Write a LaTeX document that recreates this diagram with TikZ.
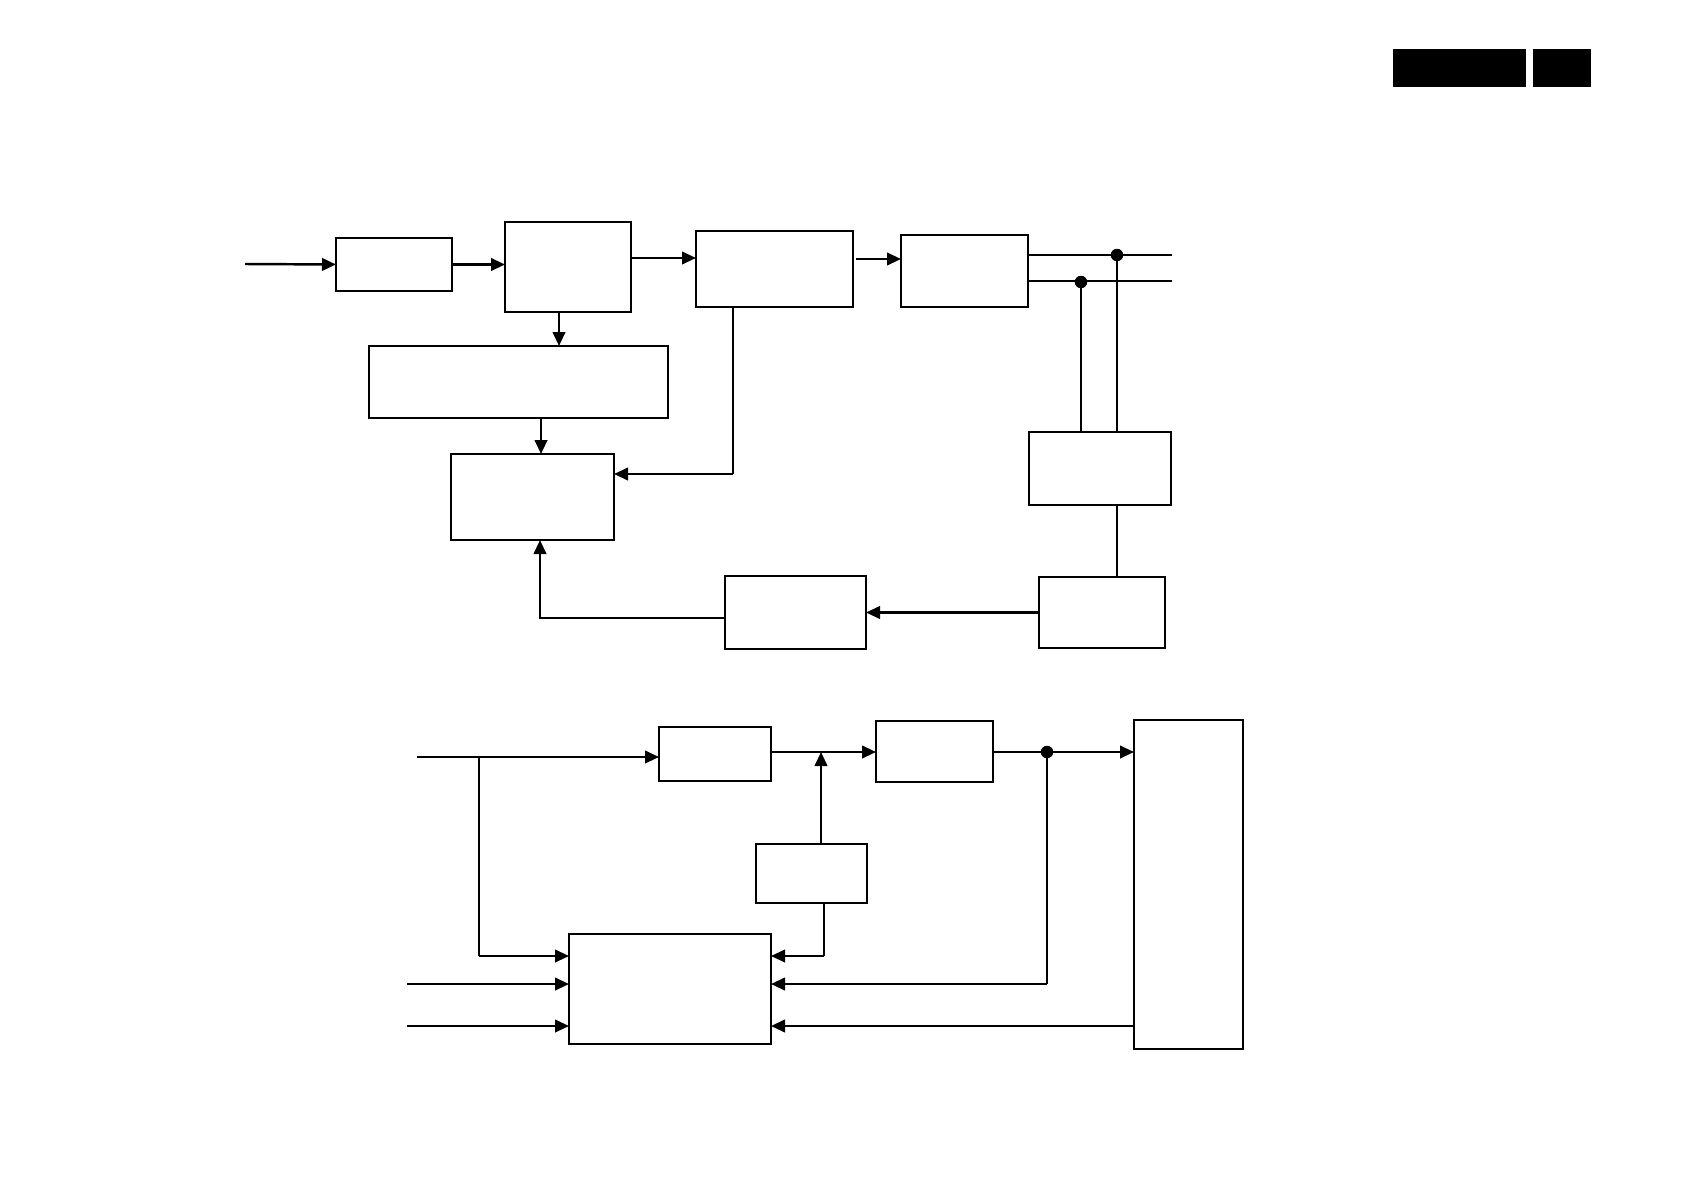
\documentclass[tikz,border=0pt]{standalone}
\usepackage{tikz}
\usetikzlibrary{arrows.meta, positioning, calc}
\newcommand{\pxl}{0.2mm}

\begin{document}
\begin{tikzpicture}[
    x=0.2mm, y=-0.2mm,
    block/.style={rectangle, draw, line width=0.9pt, inner sep=0pt, outer sep=0pt},
    heavy/.style={block, line width=1.4pt},
    tab/.style={rectangle, fill=black, inner sep=0pt, outer sep=0pt},
    arrow/.style={-{Triangle[length=2.8mm, width=2.5mm]}, line width=1.4pt},
    wire/.style={line width=1.4pt},
    thinwire/.style={line width=0.8pt},
    dot/.style={circle, fill=black, inner sep=0pt, minimum size=2.5mm}
]
\useasboundingbox (0,0) rectangle (1684,1191);

% header tabs
\node[tab, minimum width=133*\pxl, minimum height=38*\pxl] (tabA) at (1459.5,68) {};
\node[tab, minimum width=58*\pxl, minimum height=38*\pxl] (tabB) at (1562,68) {};

% upper chain
\node[block, minimum width=116*\pxl, minimum height=53*\pxl] (b1) at (394,264.5) {};
\node[heavy, minimum width=126*\pxl, minimum height=90*\pxl] (b2) at (568,267) {};
\node[heavy, minimum width=157*\pxl, minimum height=76*\pxl] (b4) at (774.5,269) {};
\node[block, minimum width=127*\pxl, minimum height=72*\pxl] (b5) at (964.5,271) {};
\node[block, minimum width=299*\pxl, minimum height=72*\pxl] (b3) at (518.5,382) {};
\node[block, minimum width=163*\pxl, minimum height=86*\pxl] (b7) at (532.5,497) {};
\node[heavy, minimum width=142*\pxl, minimum height=73*\pxl] (b6) at (1100,468.5) {};
\node[heavy, minimum width=126*\pxl, minimum height=71*\pxl] (b8) at (1102,612.5) {};
\node[block, minimum width=141*\pxl, minimum height=73*\pxl] (b9) at (795.5,612.5) {};

\coordinate (in1) at (245,264);
\coordinate (r1) at (0,258);
\coordinate (r2) at (0,259);
\coordinate (o1) at (1172,255);
\coordinate (o2) at (1172,281);
\coordinate (x1) at (559,0);
\coordinate (x2) at (541,0);
\coordinate (k3) at (540,618);
\coordinate (k4) at (733,474);
\node[dot] (d1) at (1117,255) {};
\node[dot] (d2) at (1081,282) {};

\draw[arrow] (in1) -- (b1.west);
\draw[arrow] (b1.east) -- (b1.east -| b2.west);
\draw[arrow] (b2.east |- r1) -- (b4.west |- r1);
\draw[arrow] ([xshift=3*\pxl]b4.east |- r2) -- (b5.west |- r2);
\draw[wire] (b5.east |- o1) -- (o1);
\draw[thinwire] (b5.east |- o2) -- (o2);
\draw[wire] (d1.center) -- (d1 |- b6.north);
\draw[wire] (d2.center) -- (d2 |- b6.north);
\draw[thinwire] (d1 |- b6.south) -- (d1 |- b8.north);
\draw[arrow] (b8.west) -- (b9.east);
\draw[arrow] (b9.west |- k3) -- (k3) -- (k3 |- b7.south);
\draw[wire] (k4 |- b4.south) -- (k4);
\draw[arrow] (k4) -- (k4 -| b7.east);
\draw[arrow] (b2.south -| x1) -- (b3.north -| x1);
\draw[arrow] (b3.south -| x2) -- (b7.north -| x2);

% lower chain
\node[heavy, minimum width=112*\pxl, minimum height=54*\pxl] (b10) at (715,754) {};
\node[block, minimum width=117*\pxl, minimum height=61*\pxl] (b11) at (934.5,751.5) {};
\node[block, minimum width=111*\pxl, minimum height=59*\pxl] (b12) at (811.5,873.5) {};
\node[heavy, minimum width=202*\pxl, minimum height=110*\pxl] (b13) at (670,989) {};
\node[heavy, minimum width=109*\pxl, minimum height=329*\pxl] (b14) at (1188.5,884.5) {};

\coordinate (in2) at (417,757);
\coordinate (j1) at (479,757);
\coordinate (k6) at (821,752);
\coordinate (k7) at (824,956);
\coordinate (k8) at (1047,984);
\coordinate (in3) at (407,984);
\coordinate (in4) at (407,1026);
\node[dot] (d3) at (1047,752) {};

\draw[arrow] (in2) -- (in2 -| b10.west);
\draw[thinwire] (j1) -- (j1 |- k7);
\draw[arrow] (j1 |- k7) -- (b13.west |- k7);
\draw[arrow] (b10.east |- k6) -- (b11.west |- k6);
\draw[arrow] (k6 |- b12.north) -- (k6);
\draw[arrow] (b11.east |- d3) -- (b14.west |- d3);
\draw[wire] (d3.center) -- (k8);
\draw[arrow] (k8) -- (k8 -| b13.east);
\draw[wire] (k7 |- b12.south) -- (k7);
\draw[arrow] (k7) -- (k7 -| b13.east);
\draw[arrow] (b14.west |- in4) -- (in4 -| b13.east);
\draw[arrow] (in3) -- (in3 -| b13.west);
\draw[arrow] (in4) -- (in4 -| b13.west);
\end{tikzpicture}
\end{document}
